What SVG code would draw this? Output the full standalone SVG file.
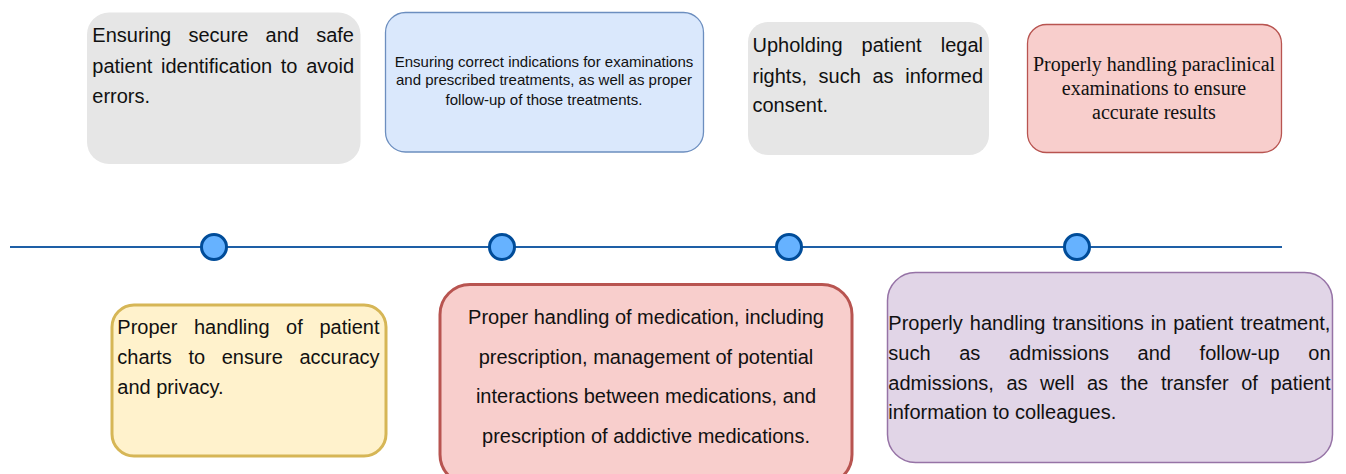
<svg xmlns="http://www.w3.org/2000/svg" width="1346" height="474" viewBox="0 0 1346 474">
  <style>
    .sans { font-family: "Liberation Sans", Arial, Helvetica, sans-serif; font-size: 20px; fill: #111; }
    .small { font-family: "Liberation Sans", Arial, Helvetica, sans-serif; font-size: 15px; fill: #111; }
    .serif { font-family: "Liberation Serif", "Times New Roman", serif; font-size: 20px; fill: #111; }
    .mid { text-anchor: middle; }
    .gray { fill: #e6e6e6; stroke: none; }
    .blue { fill: #dae8fc; stroke: #6c8ebf; stroke-width: 1.3; }
    .red { fill: #f8cecc; stroke: #b85450; stroke-width: 1.3; }
    .redthick { fill: #f8cecc; stroke: #b85450; stroke-width: 3; }
    .yellow { fill: #fff2cc; stroke: #d6b656; stroke-width: 3; }
    .purple { fill: #e1d5e7; stroke: #9673a6; stroke-width: 1.5; }
    .dot { fill: #66b2ff; stroke: #004c99; stroke-width: 3; }
  </style>

  <!-- timeline axis -->
  <g id="connectors">
    <line x1="10" y1="247" x2="1282" y2="247" stroke="#1e5fa6" stroke-width="2.2"/>
  </g>

  <!-- milestones on the axis -->
  <g id="dot-1"><circle class="dot" cx="214" cy="247" r="12.5"/></g>
  <g id="dot-2"><circle class="dot" cx="502" cy="247" r="12.5"/></g>
  <g id="dot-3"><circle class="dot" cx="789" cy="247" r="12.5"/></g>
  <g id="dot-4"><circle class="dot" cx="1077" cy="247" r="12.5"/></g>

  <!-- upper row -->
  <g id="patient-identification">
    <rect class="gray" x="87" y="12.5" width="273.5" height="151.5" rx="22" ry="22"/>
    <text class="sans" y="42">
      <tspan x="92.3">Ensuring</tspan><tspan x="188.4">secure</tspan><tspan x="265.6">and</tspan><tspan x="316.2">safe</tspan>
    </text>
    <text class="sans" y="72.5">
      <tspan x="92.3">patient</tspan><tspan x="161">identification</tspan><tspan x="280.8">to</tspan><tspan x="306.2">avoid</tspan>
    </text>
    <text class="sans" x="92.3" y="103">errors.</text>
  </g>

  <g id="correct-indications">
    <rect class="blue" x="385.5" y="12.5" width="318" height="139.5" rx="20" ry="20"/>
    <text class="small mid" x="544" y="66.5">Ensuring correct indications for examinations</text>
    <text class="small mid" x="544" y="85">and prescribed treatments, as well as proper</text>
    <text class="small mid" x="544" y="105">follow-up of those treatments.</text>
  </g>

  <g id="legal-rights">
    <rect class="gray" x="748" y="22" width="241" height="133" rx="20" ry="20"/>
    <text class="sans" y="52">
      <tspan x="752.5">Upholding</tspan><tspan x="861.6">patient</tspan><tspan x="940.8">legal</tspan>
    </text>
    <text class="sans" y="82.5">
      <tspan x="752.5">rights,</tspan><tspan x="818.6">such</tspan><tspan x="872.5">as</tspan><tspan x="905.2">informed</tspan>
    </text>
    <text class="sans" x="752.5" y="112">consent.</text>
  </g>

  <g id="paraclinical-exams">
    <rect class="red" x="1027.5" y="24.5" width="254" height="128" rx="19" ry="19"/>
    <text class="serif mid" x="1154" y="71">Properly handling paraclinical</text>
    <text class="serif mid" x="1154" y="95">examinations to ensure</text>
    <text class="serif mid" x="1154" y="118.5">accurate results</text>
  </g>

  <!-- lower row -->
  <g id="patient-charts">
    <rect class="yellow" x="112" y="305" width="274" height="151" rx="22" ry="22"/>
    <text class="sans" y="334">
      <tspan x="117.3">Proper</tspan><tspan x="193.9">handling</tspan><tspan x="286.1">of</tspan><tspan x="319.4">patient</tspan>
    </text>
    <text class="sans" y="364">
      <tspan x="117.3">charts</tspan><tspan x="188.4">to</tspan><tspan x="221.7">ensure</tspan><tspan x="299.5">accuracy</tspan>
    </text>
    <text class="sans" x="117.3" y="393.5">and privacy.</text>
  </g>

  <g id="medication-handling">
    <rect class="redthick" x="440" y="284.5" width="412" height="200" rx="30" ry="30"/>
    <text class="sans mid" x="646" y="324">Proper handling of medication, including</text>
    <text class="sans mid" x="646" y="363.5">prescription, management of potential</text>
    <text class="sans mid" x="646" y="403">interactions between medications, and</text>
    <text class="sans mid" x="646" y="442.5">prescription of addictive medications.</text>
  </g>

  <g id="treatment-transitions">
    <rect class="purple" x="887.5" y="272.5" width="445" height="190" rx="28" ry="28"/>
    <text class="sans" y="330">
      <tspan x="888.3">Properly</tspan><tspan x="969.8">handling</tspan><tspan x="1052.5">transitions</tspan><tspan x="1150.7">in</tspan><tspan x="1173.3">patient</tspan><tspan x="1240.4">treatment,</tspan>
    </text>
    <text class="sans" y="360">
      <tspan x="888.3">such</tspan><tspan x="959.2">as</tspan><tspan x="1009">admissions</tspan><tspan x="1137.6">and</tspan><tspan x="1199.6">follow-up</tspan><tspan x="1308.3">on</tspan>
    </text>
    <text class="sans" y="389.5">
      <tspan x="888.3">admissions,</tspan><tspan x="1006.4">as</tspan><tspan x="1040">well</tspan><tspan x="1087">as</tspan><tspan x="1120.6">the</tspan><tspan x="1160.9">transfer</tspan><tspan x="1241.2">of</tspan><tspan x="1270.4">patient</tspan>
    </text>
    <text class="sans" x="888.3" y="419">information to colleagues.</text>
  </g>
</svg>
